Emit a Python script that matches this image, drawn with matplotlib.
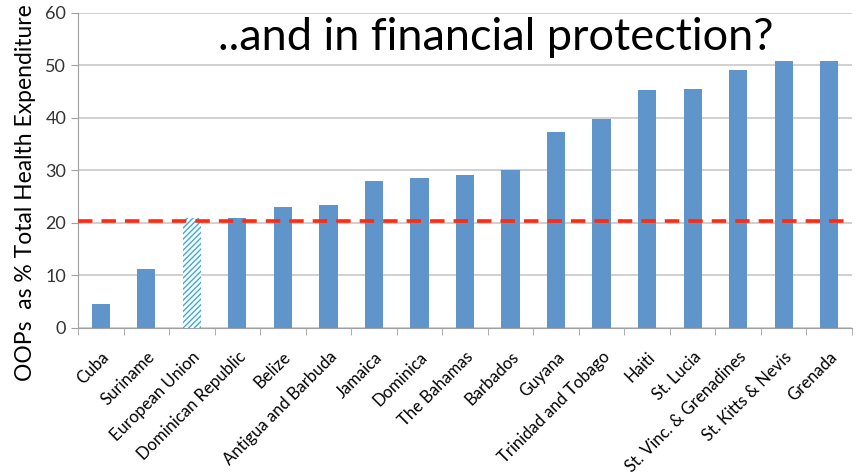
import numpy as np
import matplotlib.pyplot as plt
from matplotlib import rcParams

rcParams['font.family'] = ['Lato', 'DejaVu Sans']

countries = ['Cuba', 'Suriname', 'European Union', 'Dominican Republic', 'Belize',
             'Antigua and Barbuda', 'Jamaica', 'Dominica', 'The Bahamas', 'Barbados',
             'Guyana', 'Trinidad and Tobago', 'Haiti', 'St. Lucia',
             'St. Vinc. & Grenadines', 'St. Kitts & Nevis', 'Grenada']
oops = [4.5, 11.3, 21.0, 21.0, 23.0, 23.5, 28.0, 28.5, 29.2, 30.0,
        37.4, 39.8, 45.3, 45.5, 49.2, 50.9, 50.9]
eu_average = 20.3

fig = plt.figure(figsize=(8.6, 4.76), dpi=100)
ax = fig.add_axes([0.0907, 0.311, 0.9, 0.662])

x = np.arange(len(countries))
for i, (name, v) in enumerate(zip(countries, oops)):
  if name == 'European Union':
    ax.bar(i, v, width=0.4, color='white', edgecolor='#3aaae6', hatch='//////',
           linewidth=0, zorder=3)
  else:
    ax.bar(i, v, width=0.4, color='#5f95ca', zorder=3)

ax.axhline(eu_average, color='#ff2a10', lw=2.6, ls=(0, (4, 2.5)), zorder=4, clip_on=False)

ax.set_xlim(-0.5, len(countries) - 0.5)
ax.set_ylim(0, 60)
ax.set_yticks(range(0, 61, 10))
ax.grid(axis='y', color='#c8c8c8', lw=1.2, zorder=0)

ax.set_xticks(x)
ax.set_xticklabels(countries, rotation=45, ha='right', rotation_mode='anchor', fontsize=12)
ax.set_xticks(np.arange(-0.5, len(countries), 1), minor=True)
ax.tick_params(axis='x', which='major', length=0, pad=15)
ax.tick_params(axis='x', which='minor', length=5, color='#a0a0a0')
ax.tick_params(axis='y', length=5, color='#a0a0a0', labelsize=13, labelcolor='#333333')

for s in ['top', 'right']:
  ax.spines[s].set_visible(False)
ax.spines['left'].set_color('#a0a0a0')
ax.spines['bottom'].set_color('#a0a0a0')

ax.set_ylabel('OOPs  as % Total Health Expenditure', fontsize=16.5)
ax.yaxis.set_label_coords(-0.054, 0.43)

fig.text(0.576, 0.895, '..and in financial protection?', fontsize=32.5, ha='center', va='baseline')

fig.savefig('out.png', dpi=100)
